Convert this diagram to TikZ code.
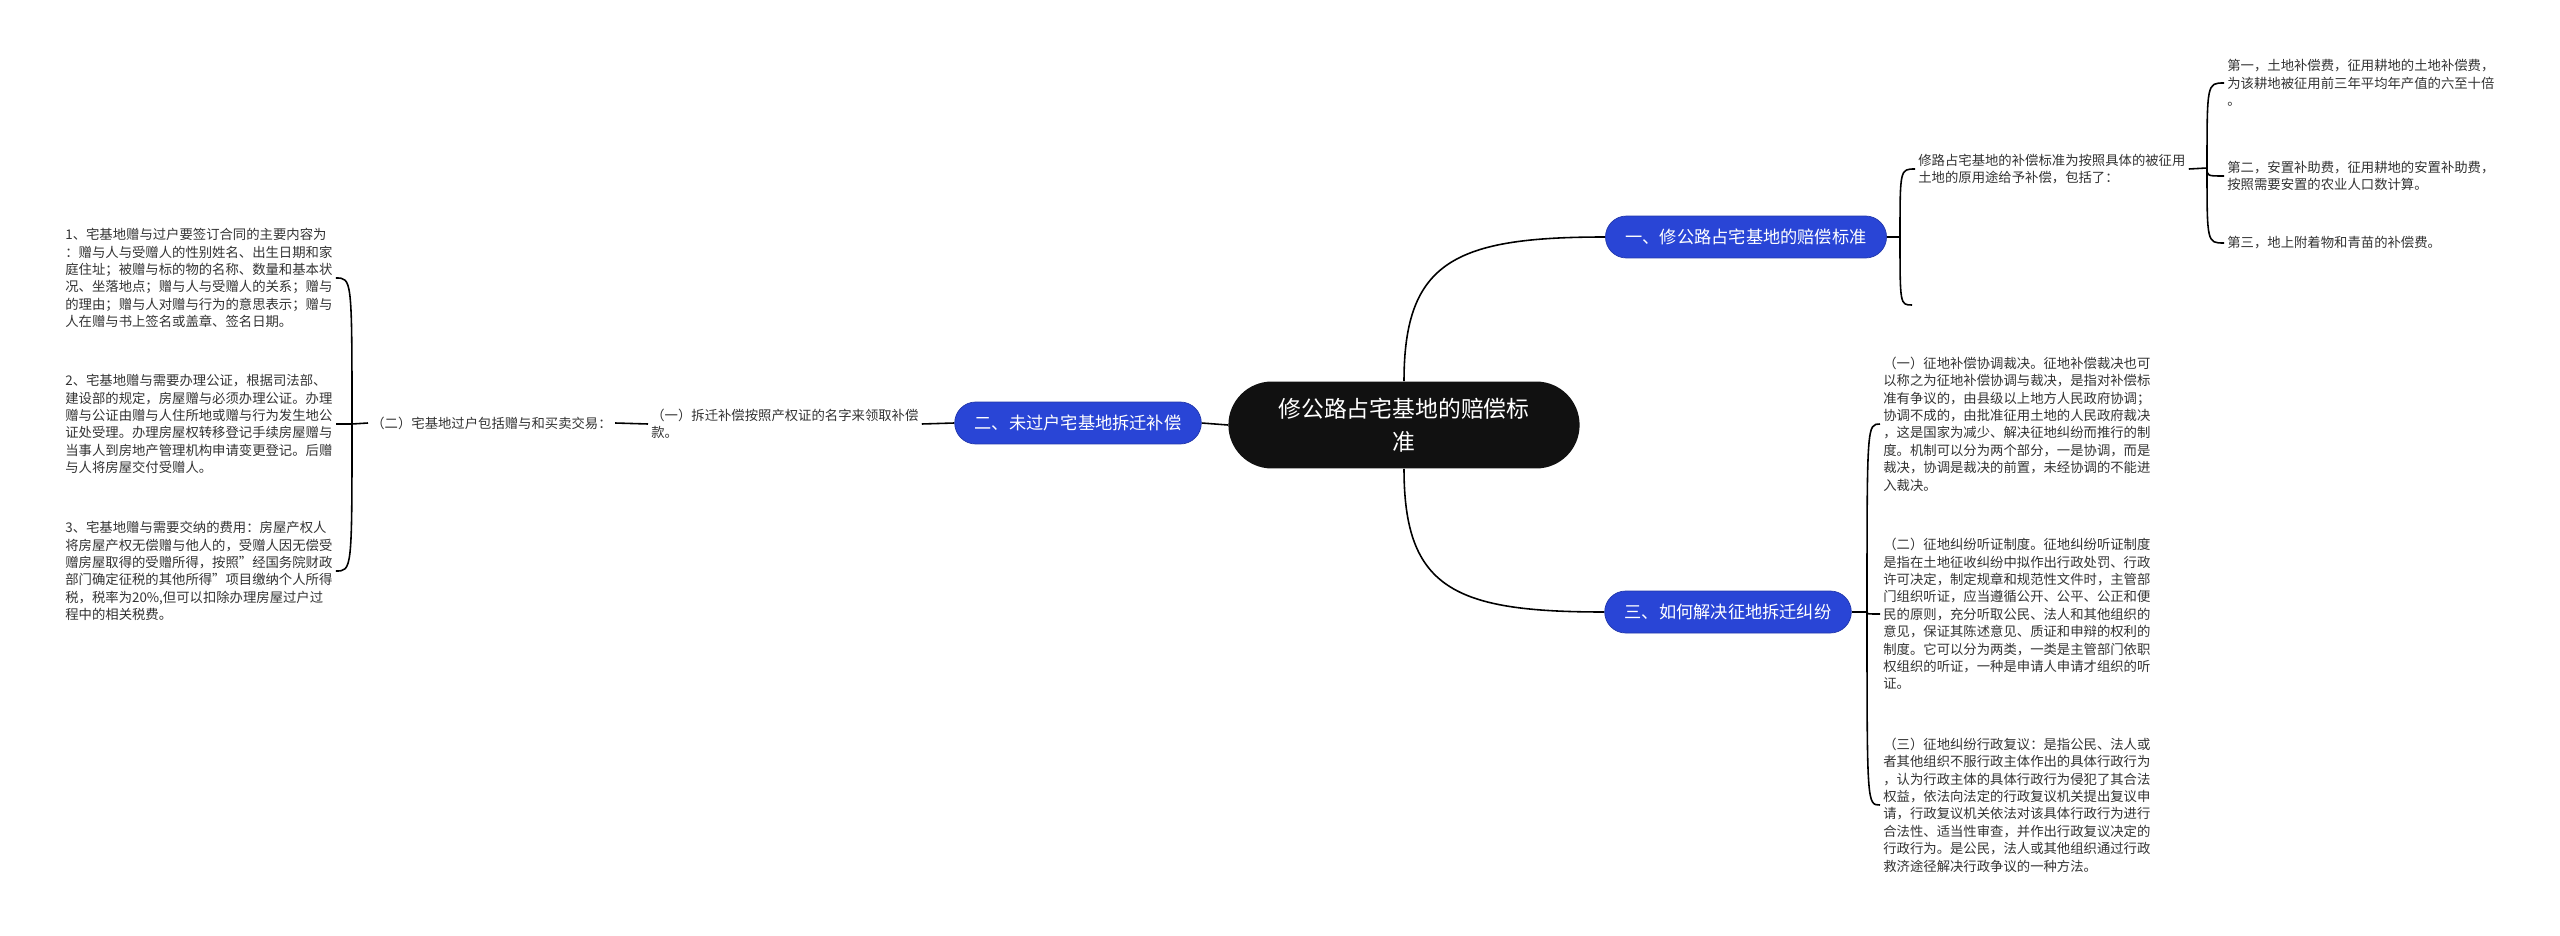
\documentclass[tikz,border=0pt]{standalone}
\usepackage{fontspec}
\setmainfont{Noto Sans CJK SC}
\usetikzlibrary{backgrounds}
\definecolor{topicblue}{RGB}{41,69,214}
\definecolor{rootblack}{RGB}{17,17,17}
\definecolor{inkgray}{RGB}{51,51,51}

\begin{document}
\begin{tikzpicture}[x=0.02cm, y=-0.02cm,
    root/.style={rectangle, rounded corners=0.87cm, fill=rootblack, text=white, minimum height=1.74cm, inner xsep=1cm, align=center, font=\fontsize{13pt}{18.7pt}\selectfont},
    topic/.style={rectangle, rounded corners=0.42cm, fill=topicblue, draw=topicblue!80!black, text=white, minimum height=0.84cm, inner xsep=0.4cm, font=\fontsize{9.8pt}{12pt}\selectfont},
    leaf/.style={inner xsep=0.06cm, inner ysep=0pt, align=left, text=inkgray, font=\fontsize{7.6pt}{9.9pt}\selectfont},
    link/.style={draw=black, line width=0.9pt}
]
\useasboundingbox (0,0) rectangle (2560,936);

% Nodes
\node[root] (root) at (1404,425) {修公路占宅基地的赔偿标\\准};
\node[topic] (one) at (1746,237) {一、修公路占宅基地的赔偿标准};
\node[topic] (two) at (1078,423) {二、未过户宅基地拆迁补偿};
\node[topic] (three) at (1728,612) {三、如何解决征地拆迁纠纷};

% Branch one
\coordinate (jone) at (1900,237);
\node[leaf, anchor=west] (std) at (1915,169) {修路占宅基地的补偿标准为按照具体的被征用\\土地的原用途给予补偿，包括了：};
\coordinate (stdend) at (1912,305);
\coordinate (jstd) at (2207,168);
\node[leaf, anchor=west] (fee1) at (2224,83) {第一，土地补偿费，征用耕地的土地补偿费，\\为该耕地被征用前三年平均年产值的六至十倍\\。};
\node[leaf, anchor=west] (fee2) at (2224,176) {第二，安置补助费，征用耕地的安置补助费，\\按照需要安置的农业人口数计算。};
\node[leaf, anchor=west] (fee3) at (2224,243) {第三，地上附着物和青苗的补偿费。};

% Branch two
\node[leaf, anchor=west] (refund) at (648,424) {（一）拆迁补偿按照产权证的名字来领取补偿\\款。};
\node[leaf, anchor=west] (transfer) at (368,423) {（二）宅基地过户包括赠与和买卖交易：};
\coordinate (jleft) at (352,424);
\node[leaf, anchor=west] (gift1) at (62,278) {1、宅基地赠与过户要签订合同的主要内容为\\：赠与人与受赠人的性别姓名、出生日期和家\\庭住址；被赠与标的物的名称、数量和基本状\\况、坐落地点；赠与人与受赠人的关系；赠与\\的理由；赠与人对赠与行为的意思表示；赠与\\人在赠与书上签名或盖章、签名日期。};
\node[leaf, anchor=west] (gift2) at (62,424) {2、宅基地赠与需要办理公证，根据司法部、\\建设部的规定，房屋赠与必须办理公证。办理\\赠与公证由赠与人住所地或赠与行为发生地公\\证处受理。办理房屋权转移登记手续房屋赠与\\当事人到房地产管理机构申请变更登记。后赠\\与人将房屋交付受赠人。};
\node[leaf, anchor=west] (gift3) at (62,571) {3、宅基地赠与需要交纳的费用：房屋产权人\\将房屋产权无偿赠与他人的，受赠人因无偿受\\赠房屋取得的受赠所得，按照"经国务院财政\\部门确定征税的其他所得"项目缴纳个人所得\\税，税率为20\%,但可以扣除办理房屋过户过\\程中的相关税费。};

% Branch three
\coordinate (jthree) at (1867,612);
\node[leaf, anchor=west] (way1) at (1880,424) {（一）征地补偿协调裁决。征地补偿裁决也可\\以称之为征地补偿协调与裁决，是指对补偿标\\准有争议的，由县级以上地方人民政府协调；\\协调不成的，由批准征用土地的人民政府裁决\\，这是国家为减少、解决征地纠纷而推行的制\\度。机制可以分为两个部分，一是协调，而是\\裁决，协调是裁决的前置，未经协调的不能进\\入裁决。};
\node[leaf, anchor=west] (way2) at (1880,614) {（二）征地纠纷听证制度。征地纠纷听证制度\\是指在土地征收纠纷中拟作出行政处罚、行政\\许可决定，制定规章和规范性文件时，主管部\\门组织听证，应当遵循公开、公平、公正和便\\民的原则，充分听取公民、法人和其他组织的\\意见，保证其陈述意见、质证和申辩的权利的\\制度。它可以分为两类，一类是主管部门依职\\权组织的听证，一种是申请人申请才组织的听\\证。};
\node[leaf, anchor=west] (way3) at (1880,805) {（三）征地纠纷行政复议：是指公民、法人或\\者其他组织不服行政主体作出的具体行政行为\\，认为行政主体的具体行政行为侵犯了其合法\\权益，依法向法定的行政复议机关提出复议申\\请，行政复议机关依法对该具体行政行为进行\\合法性、适当性审查，并作出行政复议决定的\\行政行为。是公民，法人或其他组织通过行政\\救济途径解决行政争议的一种方法。};

% Edges
\begin{pgfonlayer}{background}
\draw[link] (root.north) .. controls +(0,-120) and +(-150,0) .. (one.west);
\draw[link] (root.south) .. controls +(0,120) and +(-150,0) .. (three.west);
\draw[link] (root.west) -- (two.east);

\draw[link] (one.east) -- (jone);
\draw[link] (jone) .. controls (jone |- std.west) .. (std.west);
\draw[link] (jone) .. controls (jone |- stdend) .. (stdend);
\draw[link] (std.east) -- (jstd);
\draw[link] (jstd) .. controls (jstd |- fee1.west) .. (fee1.west);
\draw[link] (jstd) .. controls (jstd |- fee2.west) .. (fee2.west);
\draw[link] (jstd) .. controls (jstd |- fee3.west) .. (fee3.west);

\draw[link] (two.west) -- (refund.east);
\draw[link] (refund.west) -- (transfer.east);
\draw[link] (transfer.west) -- (jleft);
\draw[link] (jleft) .. controls (jleft |- gift1.east) .. (gift1.east);
\draw[link] (jleft) .. controls (jleft |- gift2.east) .. (gift2.east);
\draw[link] (jleft) .. controls (jleft |- gift3.east) .. (gift3.east);

\draw[link] (three.east) -- (jthree);
\draw[link] (jthree) .. controls (jthree |- way1.west) .. (way1.west);
\draw[link] (jthree) .. controls (jthree |- way2.west) .. (way2.west);
\draw[link] (jthree) .. controls (jthree |- way3.west) .. (way3.west);
\end{pgfonlayer}

\end{tikzpicture}
\end{document}
